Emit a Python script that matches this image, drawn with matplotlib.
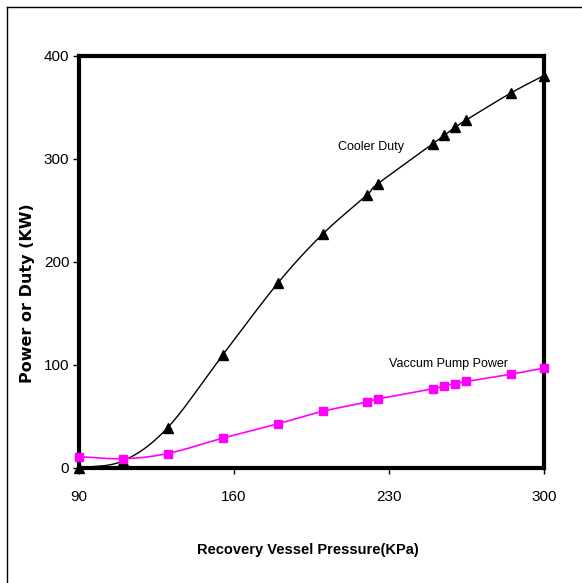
import numpy as np
import matplotlib.pyplot as plt
from matplotlib.lines import Line2D

# --- data ---
pressure_cooler = [90, 110, 130, 155, 180, 200, 220, 225, 250, 255, 260, 265, 285, 300]
cooler_duty = [0, 7, 39, 110, 180, 227, 265, 276, 315, 323, 331, 338, 364, 381]

pressure_pump = [90, 110, 130, 155, 180, 200, 220, 225, 250, 255, 260, 265, 285, 300]
pump_power = [11, 9, 14, 29, 43, 55, 64, 67, 77, 80, 82, 84, 91, 97]

x_ticks = [90, 160, 230, 300]
y_ticks = [0, 100, 200, 300, 400]

NARROW = ['Liberation Sans Narrow', 'Liberation Sans', 'DejaVu Sans']


def smooth(x, y, n=20):
    # Catmull-Rom curve through the points, like Excel's smoothed line
    x = np.asarray(x, float)
    y = np.asarray(y, float)
    px = np.concatenate([[2 * x[0] - x[1]], x, [2 * x[-1] - x[-2]]])
    py = np.concatenate([[2 * y[0] - y[1]], y, [2 * y[-1] - y[-2]]])
    t = np.linspace(0, 1, n)
    xs, ys = [], []
    for i in range(1, len(px) - 2):
        for p, out in ((px, xs), (py, ys)):
            p0, p1, p2, p3 = p[i - 1], p[i], p[i + 1], p[i + 2]
            out.extend(0.5 * (2 * p1 + (-p0 + p2) * t
                              + (2 * p0 - 5 * p1 + 4 * p2 - p3) * t ** 2
                              + (-p0 + 3 * p1 - 3 * p2 + p3) * t ** 3))
    return np.array(xs), np.array(ys)


fig = plt.figure(figsize=(5.82, 5.83), dpi=100)
ax = fig.add_axes([0.1357, 0.1973, 0.799, 0.7067])

sx, sy = smooth(pressure_cooler, cooler_duty)
ax.plot(sx, sy, color='black', lw=1, zorder=2)
ax.plot(pressure_cooler, cooler_duty, linestyle='none', marker='^',
        color='black', markersize=7, zorder=3, clip_on=False)

sx, sy = smooth(pressure_pump, pump_power)
ax.plot(sx, sy, color='#ff00ff', lw=1.2, zorder=2)
ax.plot(pressure_pump, pump_power, linestyle='none', marker='s',
        color='#ff00ff', markersize=6, zorder=3, clip_on=False)

ax.text(222, 312, 'Cooler Duty', family=NARROW, fontsize=9, ha='center', va='center')
ax.text(257, 101, 'Vaccum Pump Power', family=NARROW, fontsize=9, ha='center', va='center')

ax.set_xlim(90, 300)
ax.set_ylim(0, 400)
ax.set_xticks(x_ticks)
ax.set_yticks(y_ticks)
ax.set_xticklabels([str(v) for v in x_ticks], family=NARROW, fontsize=11)
ax.set_yticklabels([str(v) for v in y_ticks], family=NARROW, fontsize=11)
ax.tick_params(axis='x', direction='out', length=4, width=1, pad=12)
ax.tick_params(axis='y', direction='out', length=4, width=1, pad=3)

for s in ax.spines.values():
    s.set_linewidth(3)
    s.set_color('black')

ax.set_xlabel('Recovery Vessel Pressure(KPa)', family=NARROW, fontsize=10.5,
              fontweight='bold')
ax.xaxis.set_label_coords(0.4925, -0.183)
ax.set_ylabel('Power or Duty (KW)', fontsize=11.5, fontweight='bold')
ax.yaxis.set_label_coords(-0.095, 0.425)

# outer frame lines of the original picture
fig.add_artist(Line2D([7 / 582, 7 / 582], [0, 1 - 7 / 583], color='black', lw=1))
fig.add_artist(Line2D([7 / 582, 1], [1 - 7 / 583, 1 - 7 / 583], color='black', lw=1))

plt.savefig('out.png', dpi=100, facecolor='white')
